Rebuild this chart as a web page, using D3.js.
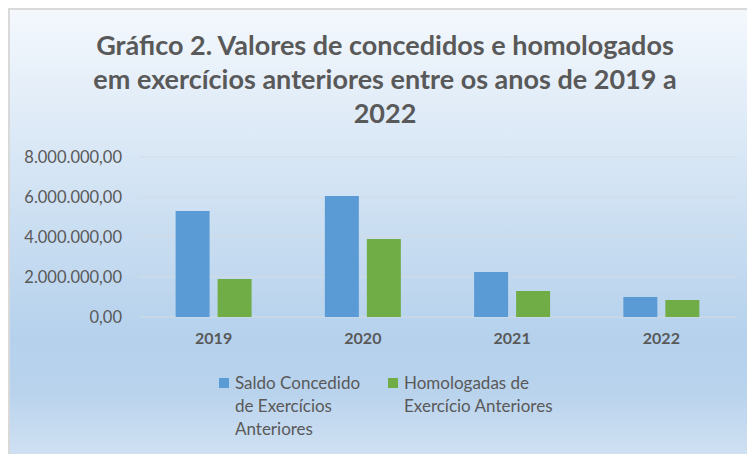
<!DOCTYPE html>
<html>
<head>
<meta charset="utf-8">
<script src="https://cdn.jsdelivr.net/npm/d3@7"></script>
<style>
  body { margin: 0; background: #fff; }
  svg { display: block; }
</style>
</head>
<body>
<div id="graph"></div>
<script>
// Data
const years = ['2019', '2020', '2021', '2022']
const series = ['Saldo Concedido de Exercícios Anteriores', 'Homologadas de Exercício Anteriores']
const saldo = [5300000, 6050000, 2250000, 1000000]
const homologadas = [1900000, 3900000, 1300000, 850000]
const yTicks = [0, 2000000, 4000000, 6000000, 8000000]
const titleLines = ['Gráfico 2. Valores de concedidos e homologados', 'em exercícios anteriores entre os anos de 2019 a', '2022']
const legendLines = [['Saldo Concedido', 'de Exercícios', 'Anteriores'], ['Homologadas de', 'Exercício Anteriores']]

const total_width = 747
const total_height = 454
const colors = ['#5b9bd5', '#70ad47']
const font = 'Lato, "Open Sans", sans-serif'

svg = d3.select('#graph').append('svg')
  .attr('width', total_width)
  .attr('height', total_height)

// background gradient like Excel's light gradient fill
defs = svg.append('defs')
grad = defs.append('linearGradient')
  .attr('id', 'bg')
  .attr('x1', 0).attr('y1', 0).attr('x2', 0).attr('y2', 1)
grad.append('stop').attr('offset', '0%').attr('stop-color', '#f4f8fd')
grad.append('stop').attr('offset', '74%').attr('stop-color', '#b5d1ec')
grad.append('stop').attr('offset', '86%').attr('stop-color', '#b9d3ed')
grad.append('stop').attr('offset', '100%').attr('stop-color', '#cfe0f2')

svg.append('rect')
  .attr('x', 8).attr('y', 8)
  .attr('width', total_width - 8).attr('height', total_height - 8)
  .attr('fill', '#d9d9d9')
svg.append('rect')
  .attr('x', 10).attr('y', 10)
  .attr('width', total_width - 10).attr('height', total_height - 10)
  .attr('fill', 'url(#bg)')

// title
title = svg.append('text')
  .attr('text-anchor', 'middle')
  .attr('fill', '#595959')
  .style('font-family', font)
  .style('font-weight', 'bold')
  .style('font-size', '27px')
titleLines.forEach((t, i) => {
  title.append('tspan')
    .attr('x', 385)
    .attr('y', 55 + i * 34)
    .text(t)
})

// scales
x0 = d3.scaleBand().domain(years).range([139, 736])
x1 = d3.scaleBand().domain(series)
  .range([36.6, 36.6 + 76])
  .paddingInner(2 - 76 / 42)
y = d3.scaleLinear().domain([0, 8000000]).range([317, 157])

fmt = d3.formatLocale({ decimal: ',', thousands: '.', grouping: [3], currency: ['R$', ''] }).format(',.2f')

// gridlines
svg.append('g')
  .selectAll('line')
  .data(yTicks)
  .join('line')
  .attr('x1', 139).attr('x2', 736)
  .attr('y1', d => y(d)).attr('y2', d => y(d))
  .attr('stroke', '#d3dbe3')
  .attr('stroke-width', 1)

// y axis
yAxis = svg.append('g')
  .attr('transform', 'translate(122, 0)')
  .call(d3.axisLeft(y).tickValues(yTicks).tickFormat(fmt).tickSize(0).tickPadding(0))
yAxis.select('.domain').remove()
yAxis.selectAll('text')
  .attr('fill', '#595959')
  .style('font-family', font)
  .style('font-size', '16.5px')

// x axis
xAxis = svg.append('g')
  .attr('transform', 'translate(0, 317)')
  .call(d3.axisBottom(x0).tickSize(0).tickPadding(16))
xAxis.select('.domain').remove()
xAxis.selectAll('text')
  .attr('fill', '#595959')
  .style('font-family', font)
  .style('font-weight', 'bold')
  .style('font-size', '16px')

// bars
const values = [saldo, homologadas]
groups = svg.append('g')
  .selectAll('g')
  .data(years)
  .join('g')
  .attr('transform', d => `translate(${x0(d)}, 0)`)

groups.selectAll('rect')
  .data((d, i) => series.map((s, j) => ({ s: s, v: values[j][i], c: colors[j] })))
  .join('rect')
  .attr('x', d => x1(d.s))
  .attr('width', x1.bandwidth())
  .attr('y', d => y(d.v))
  .attr('height', d => y(0) - y(d.v))
  .attr('fill', d => d.c)

// legend
const legendX = [219, 388]
legend = svg.append('g')
legendLines.forEach((lines, i) => {
  legend.append('rect')
    .attr('x', legendX[i]).attr('y', 378)
    .attr('width', 10).attr('height', 10)
    .attr('fill', colors[i])
  let t = legend.append('text')
    .attr('fill', '#595959')
    .style('font-family', font)
    .style('font-size', '17px')
  lines.forEach((l, k) => {
    t.append('tspan')
      .attr('x', legendX[i] + 16)
      .attr('y', 389 + k * 23)
      .text(l)
  })
})
</script>
</body>
</html>
